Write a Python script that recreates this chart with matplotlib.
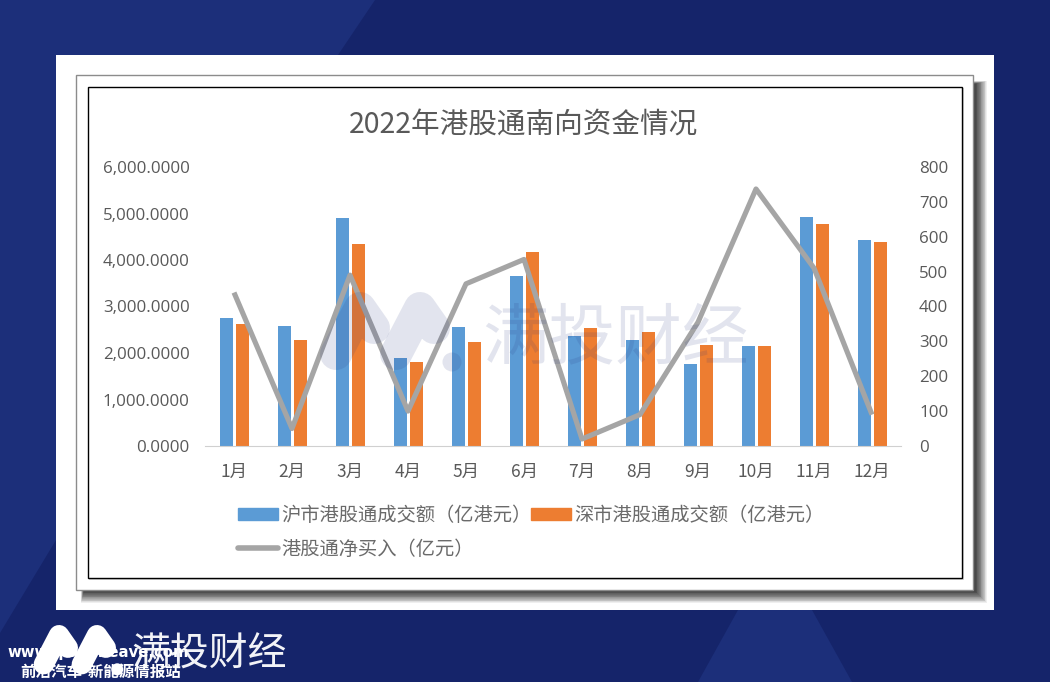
import numpy as np
import matplotlib
matplotlib.use("Agg")
import matplotlib.pyplot as plt
from matplotlib.patches import Rectangle, Polygon, Circle, Patch
from matplotlib.lines import Line2D

months = ["1月","2月","3月","4月","5月","6月","7月","8月","9月","10月","11月","12月"]
sh_turnover = [2750,2570,4900,1900,2550,3650,2360,2270,1760,2160,4930,4440]
sz_turnover = [2620,2270,4350,1800,2240,4170,2540,2460,2180,2150,4780,4390]
net_buy = [440,50,490,100,465,535,20,90,355,737,510,90]
title = "2022年港股通南向资金情况"
left_ticks = [0,1000,2000,3000,4000,5000,6000]
right_ticks = [0,100,200,300,400,500,600,700,800]
names = ["沪市港股通成交额（亿港元）","深市港股通成交额（亿港元）","港股通净买入（亿元）"]

W, H = 1050, 682
CJK = "Noto Sans CJK SC"
GREY = "#595959"
fig = plt.figure(figsize=(W/100, H/100), dpi=100, facecolor="#15246a")

def px_axes(z):
    a = fig.add_axes([0,0,1,1], zorder=z)
    a.set_xlim(0,W); a.set_ylim(H,0); a.axis("off")
    a.patch.set_alpha(0)
    return a

bg = px_axes(0)
bg.add_patch(Rectangle((0,0),W,H,fc="#15246a",ec="none"))
bg.add_patch(Polygon([(0,0),(375,0),(338,55),(56,55),(56,540),(0,633)],fc="#1c2f7a",ec="none"))
bg.add_patch(Polygon([(698,682),(738,610),(812,610),(852,682)],fc="#1c2f7a",ec="none"))
bg.add_patch(Rectangle((56,55),938,555,fc="white",ec="none"))
# soft shadow, fading outwards from the frame
for i in range(16, -1, -1):
    c = str(min(1.0, 0.27 + 0.73*(i/16)**1.4))
    bg.add_patch(Rectangle((84-i*0.2,84-i*0.2),891+i*1.0,507+i*1.0,fc=c,ec="none"))
bg.add_patch(Rectangle((76,75),897,515,fc="white",ec="#8c8c8c",lw=1))
bg.add_patch(Rectangle((89,88),875,492,fc="#d4d4d4",ec="none"))
bg.add_patch(Rectangle((88,87),874,491,fc="white",ec="black",lw=1))

def logo(a, x, y, scale, color, alpha=1.0):
    """Two-peak brand mark; (x, y) is the top of the first peak."""
    for dx in (0, 60):
        a.plot([x+(dx-24)*scale, x+dx*scale, x+(dx+14)*scale],
               [y+62*scale, y+16*scale, y+36*scale],
               color=color, alpha=alpha, lw=32*scale*0.72,
               solid_capstyle="round", solid_joinstyle="round")
    a.add_patch(Circle((x+92*scale, y+70*scale), 9.5*scale, fc=color, ec="none", alpha=alpha))

logo(bg,59,625,0.633,"white")
bg.text(209,655,"满投财经",color="#f2f3f7",fontsize=28,fontweight="medium",fontfamily=CJK,ha="center",va="center")
bg.text(98,652,"www.qiancheave.com",color="white",fontsize=10.7,fontweight="bold",fontfamily="DejaVu Sans",ha="center",va="center")
bg.text(101,672,"前沿汽车-新能源情报站",color="white",fontsize=11.2,fontweight="bold",fontfamily=CJK,ha="center",va="center")

# chart
L,R,T,B = 205,901,167,446
ax = fig.add_axes([L/W,1-B/H,(R-L)/W,(B-T)/H],zorder=2)
ax.patch.set_alpha(0)
x = np.arange(12)
w = 13.5/58
ax.bar(x-7.5/58,sh_turnover,width=w,color="#5b9bd5",zorder=2)
ax.bar(x+8.5/58,sz_turnover,width=w,color="#ed7d31",zorder=2)
ax.set_xlim(-0.5,11.5); ax.set_ylim(0,6000)
ax.set_xticks(x,months)
ax.set_yticks(left_ticks,[f"{v:,.4f}" for v in left_ticks])
for s in ("top","left","right"): ax.spines[s].set_visible(False)
ax.spines["bottom"].set_color("#d0d0d0")
ax.tick_params(axis="both",length=0,labelcolor=GREY)
ax.tick_params(axis="x",pad=12); ax.tick_params(axis="y",pad=11)
for t in ax.get_xticklabels(): t.set_fontfamily(CJK); t.set_fontsize(12.5)
for t in ax.get_yticklabels(): t.set_fontfamily("Open Sans"); t.set_fontsize(12.2)

ax2 = ax.twinx()
ax2.patch.set_alpha(0)
ax2.plot(x,net_buy,color="#a5a5a5",lw=3.7,solid_joinstyle="round",solid_capstyle="butt",zorder=3)
ax2.set_ylim(0,800); ax2.set_yticks(right_ticks)
for s in ax2.spines.values(): s.set_visible(False)
ax2.tick_params(axis="y",length=0,labelcolor=GREY,pad=13)
for t in ax2.get_yticklabels(): t.set_fontfamily("Open Sans"); t.set_fontsize(12.2)

fig.text(523.5/W,1-126/H,title,color=GREY,fontsize=20.6,fontfamily=CJK,ha="center",va="center",zorder=5)

handles=[Patch(color="#5b9bd5"),Line2D([],[],color="#a5a5a5",lw=4,solid_capstyle="round"),Patch(color="#ed7d31")]
labels=[names[0],names[2],names[1]]
leg=fig.legend(handles,labels,ncol=2,loc="upper left",bbox_to_anchor=(238/W,1-505/H),frameon=False,
    prop={"family":CJK,"size":13.9,"weight":"light"},labelcolor="#6a6a6a",handlelength=2.07,handleheight=0.6,
    handletextpad=0.17,columnspacing=-0.03,labelspacing=0.665,borderpad=0,borderaxespad=0)

# watermark on top
wm = px_axes(4)
logo(wm,360,292,1.0,"#25357f",alpha=0.13)
wm.text(615,340,"满投财经",color="#25357f",alpha=0.13,fontsize=48,fontweight="medium",fontfamily=CJK,ha="center",va="center")

fig.savefig("out.png",dpi=100,facecolor=fig.get_facecolor())
